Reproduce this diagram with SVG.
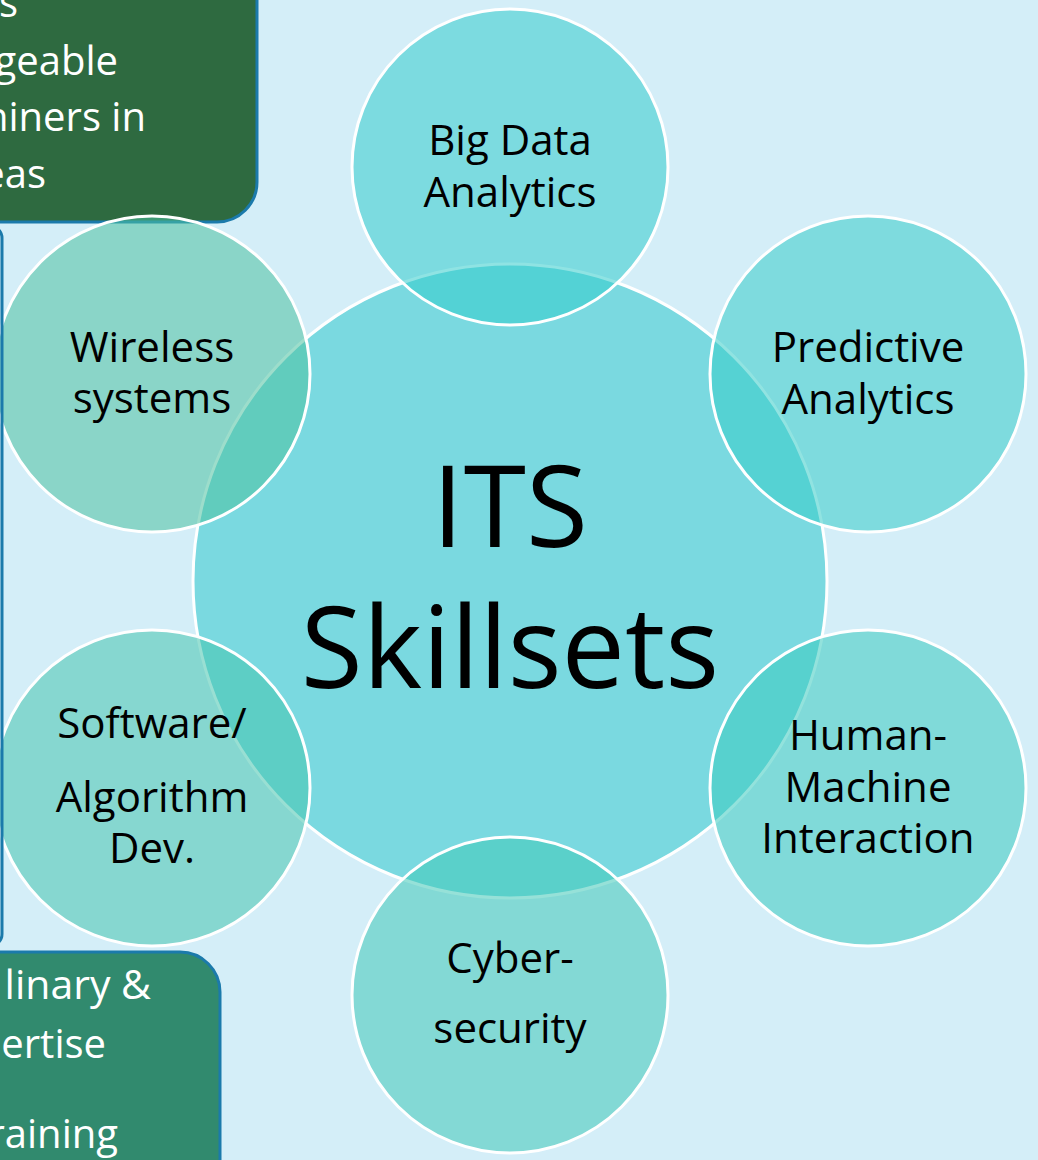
<svg xmlns="http://www.w3.org/2000/svg" width="1038" height="1160" viewBox="0 0 1038 1160">
<style>
.lbl{font-family:"Open Sans","Noto Sans",sans-serif;font-size:42px;fill:#000;text-anchor:middle}
.box{font-family:"Open Sans","Noto Sans",sans-serif;font-size:40px;fill:#fff;text-anchor:end}
.big{font-family:"Open Sans","Noto Sans",sans-serif;font-size:113px;fill:#000;text-anchor:middle}
.sat{stroke:#fff;stroke-width:3;fill-opacity:0.55}
</style>
<rect x="0" y="0" width="1038" height="1160" fill="#D4EEF8"/>
<g id="box-top">
<rect x="-200" y="-60" width="457" height="282" rx="40" fill="#2E6A40" stroke="#1B7AAB" stroke-width="3"/>
<text class="box" x="18" y="17">s</text>
<text class="box" x="118" y="75">geable</text>
<text class="box" x="146" y="131">niners in</text>
<text class="box" x="46" y="188">eas</text>
</g>
<g id="box-bottom">
<rect x="-200" y="952" width="420" height="300" rx="40" fill="#318A6E" stroke="#1B7AAB" stroke-width="3"/>
<text class="box" x="151" y="999" style="font-size:41px">linary &amp;</text>
<text class="box" x="106" y="1058">ertise</text>
<text class="box" x="118" y="1148">raining</text>
</g>
<g id="center">
<circle cx="510" cy="581" r="317" fill="#7AD9E0" stroke="#fff" stroke-width="3"/>
<text class="big" x="510" y="547">ITS</text>
<text class="big" x="510" y="688">Skillsets</text>
</g>
<g id="connectors"></g>
<g id="big-data">
<circle class="sat" cx="510" cy="167" r="158" fill="#33CCCC"/>
<text class="lbl" x="510" y="155">Big Data</text>
<text class="lbl" x="510" y="207">Analytics</text>
</g>
<g id="predictive">
<circle class="sat" cx="868" cy="374" r="158" fill="#36CCC8"/>
<text class="lbl" x="868" y="362">Predictive</text>
<text class="lbl" x="868" y="414">Analytics</text>
</g>
<g id="human-machine">
<circle class="sat" cx="868" cy="788" r="158" fill="#3ACAC0"/>
<text class="lbl" x="868" y="750">Human-</text>
<text class="lbl" x="868" y="802">Machine</text>
<text class="lbl" x="868" y="853">Interaction</text>
</g>
<g id="cyber">
<circle class="sat" cx="510" cy="995" r="158" fill="#40C8B8"/>
<text class="lbl" x="510" y="973">Cyber-</text>
<text class="lbl" x="510" y="1043">security</text>
</g>
<g id="software">
<circle class="sat" cx="152" cy="788" r="158" fill="#46C4AE"/>
<text class="lbl" x="152" y="738">Software/</text>
<text class="lbl" x="152" y="812">Algorithm</text>
<text class="lbl" x="152" y="863">Dev.</text>
</g>
<g id="wireless">
<circle class="sat" cx="152" cy="374" r="158" fill="#4DC1A1"/>
<text class="lbl" x="152" y="362">Wireless</text>
<text class="lbl" x="152" y="413">systems</text>
</g>
<g id="box-left">
<rect x="-300" y="226" width="302" height="720" rx="12" fill="none" stroke="#1B7AAB" stroke-width="3"/>
</g>
</svg>
